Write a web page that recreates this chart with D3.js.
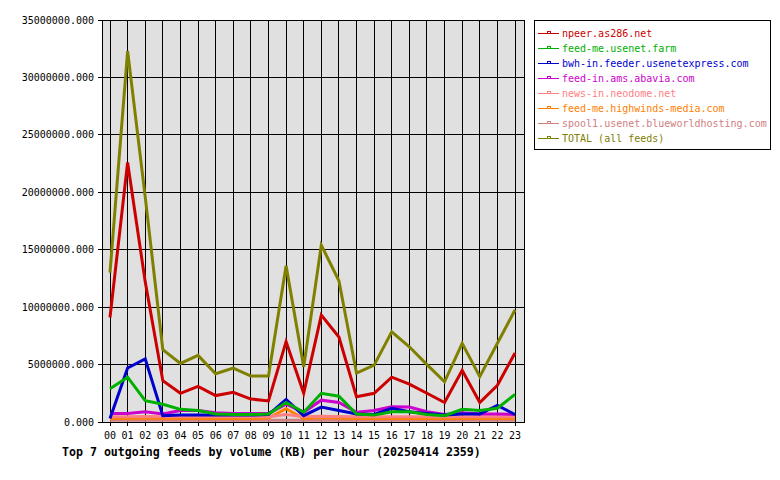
<!DOCTYPE html>
<html lang="en">
<head>
  <meta charset="UTF-8">
  <style>
    body { margin: 0; background: #fff; }
    svg { display: block; }
    text { font-family: "DejaVu Sans Mono", monospace; font-size: 10px; }
    .title { font-weight: bold; font-size: 11.6px; }
    .series { fill: none; stroke-width: 3; stroke-linejoin: miter; }
  </style>
  <script src="https://d3js.org/d3.v7.min.js"></script>
</head>
<body>
<svg id="chart"></svg>
<script>
  // hours of the day
  const hours = ["00","01","02","03","04","05","06","07","08","09","10","11",
                 "12","13","14","15","16","17","18","19","20","21","22","23"];

  const feedNames = [
    "npeer.as286.net",
    "feed-me.usenet.farm",
    "bwh-in.feeder.usenetexpress.com",
    "feed-in.ams.abavia.com",
    "news-in.neodome.net",
    "feed-me.highwinds-media.com",
    "spool1.usenet.blueworldhosting.com",
    "TOTAL (all feeds)"
  ];

  const feedColors = ["#cc0000", "#00b000", "#0000cc", "#cc00cc",
                      "#ff8080", "#ff8000", "#d08080", "#808000"];

  // KB per hour
  const npeer   = [9100000, 22600000, 12200000, 3600000, 2500000, 3100000, 2300000, 2580000, 2000000, 1830000, 7000000, 2500000,
                   9300000, 7400000, 2200000, 2500000, 3900000, 3300000, 2500000, 1700000, 4500000, 1700000, 3200000, 6000000];
  const farm    = [2900000, 3900000, 1850000, 1550000, 1100000, 1000000, 700000, 650000, 650000, 700000, 1700000, 850000,
                   2500000, 2250000, 700000, 600000, 900000, 900000, 650000, 550000, 1100000, 1000000, 1200000, 2400000];
  const bwh     = [300000, 4700000, 5500000, 550000, 600000, 600000, 600000, 600000, 600000, 650000, 1950000, 550000,
                   1300000, 1000000, 700000, 650000, 1200000, 900000, 750000, 600000, 700000, 700000, 1450000, 650000];
  const abavia  = [750000, 750000, 900000, 700000, 1000000, 1000000, 800000, 750000, 750000, 750000, 1550000, 850000,
                   1900000, 1700000, 850000, 1000000, 1330000, 1300000, 900000, 650000, 800000, 700000, 700000, 650000];
  const neodome = [450000, 450000, 480000, 450000, 450000, 450000, 450000, 450000, 450000, 450000, 650000, 450000,
                   500000, 480000, 450000, 450000, 450000, 450000, 450000, 450000, 450000, 450000, 450000, 450000];
  const highwinds = [300000, 300000, 350000, 300000, 300000, 300000, 300000, 300000, 300000, 350000, 1150000, 300000,
                   400000, 350000, 300000, 300000, 300000, 300000, 300000, 300000, 300000, 300000, 300000, 300000];
  const spool1  = [150000, 150000, 150000, 150000, 150000, 150000, 150000, 150000, 150000, 150000, 150000, 150000,
                   150000, 150000, 150000, 150000, 150000, 150000, 150000, 150000, 150000, 150000, 150000, 150000];
  const total   = [13000000, 32300000, 19600000, 6300000, 5100000, 5800000, 4200000, 4700000, 4000000, 4000000, 13600000, 4800000,
                   15400000, 12300000, 4250000, 4950000, 7850000, 6550000, 5000000, 3500000, 6850000, 3950000, 6850000, 9750000];

  const allSeries = [npeer, farm, bwh, abavia, neodome, highwinds, spool1, total];

  const yTicks = [0, 5000000, 10000000, 15000000, 20000000, 25000000, 30000000, 35000000];

  const titleText = "Top 7 outgoing feeds by volume (KB) per hour (20250414 2359)";

  const svg = d3.select("#chart").attr("width", 780).attr("height", 480);

  const plot = { left: 102, right: 524, top: 20, bottom: 422 };

  const x = d3.scalePoint().domain(hours).range([110, 515]);
  const y = d3.scaleLinear().domain([0, 35000000]).range([plot.bottom, plot.top]);

  // plot background
  svg.append("rect")
    .attr("x", plot.left).attr("y", plot.top)
    .attr("width", plot.right - plot.left).attr("height", plot.bottom - plot.top)
    .attr("fill", "#e0e0e0");

  // grid lines
  const grid = svg.append("g").attr("shape-rendering", "crispEdges").attr("stroke", "#000");
  hours.forEach(h => {
    grid.append("line")
      .attr("x1", x(h)).attr("x2", x(h))
      .attr("y1", plot.top).attr("y2", plot.bottom + 4);
  });
  yTicks.forEach(t => {
    grid.append("line")
      .attr("x1", plot.left - 4).attr("x2", plot.right)
      .attr("y1", y(t)).attr("y2", y(t));
  });
  grid.append("rect")
    .attr("x", plot.left).attr("y", plot.top)
    .attr("width", plot.right - plot.left).attr("height", plot.bottom - plot.top)
    .attr("fill", "none");

  // y labels
  svg.append("g").selectAll("text").data(yTicks).join("text")
    .attr("x", 94).attr("y", d => y(d))
    .attr("dy", "0.35em")
    .attr("text-anchor", "end")
    .text(d => d3.format(".3f")(d));

  // x labels
  svg.append("g").selectAll("text").data(hours).join("text")
    .attr("x", d => x(d)).attr("y", 439)
    .attr("text-anchor", "middle")
    .text(d => d);

  // series lines, TOTAL drawn last
  const line = d3.line()
    .x((d, i) => x(hours[i]))
    .y(d => y(d));

  const drawOrder = [6, 5, 4, 3, 2, 1, 0, 7];
  drawOrder.forEach(i => {
    svg.append("path")
      .attr("class", "series")
      .attr("d", line(allSeries[i]))
      .attr("stroke", feedColors[i]);
  });

  // title
  svg.append("text")
    .attr("class", "title")
    .attr("x", 62).attr("y", 456)
    .text(titleText);

  // legend
  const legend = svg.append("g").attr("shape-rendering", "crispEdges");
  legend.append("rect")
    .attr("x", 534).attr("y", 20)
    .attr("width", 236).attr("height", 129)
    .attr("fill", "#fff").attr("stroke", "#000");

  feedNames.forEach((name, i) => {
    const ly = 33 + i * 15;
    legend.append("rect")
      .attr("x", 538).attr("y", ly)
      .attr("width", 21).attr("height", 1)
      .attr("fill", feedColors[i]);
    legend.append("rect")
      .attr("x", 547).attr("y", ly - 2)
      .attr("width", 3).attr("height", 2)
      .attr("fill", "none")
      .attr("stroke", feedColors[i]);
    legend.append("text")
      .attr("x", 562).attr("y", ly + 0.5)
      .attr("dy", "0.35em")
      .attr("fill", feedColors[i])
      .text(name);
  });
</script>
</body>
</html>
